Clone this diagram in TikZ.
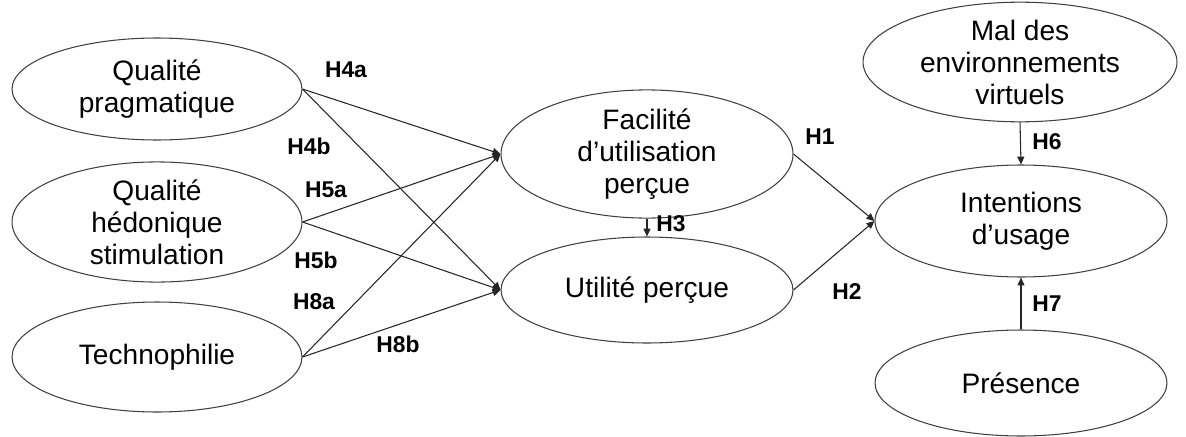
\documentclass[tikz,border=0pt]{standalone}
\usepackage{fontspec}
\setmainfont{Liberation Sans}
\usetikzlibrary{shapes.geometric,arrows.meta}
\tikzset{
  var/.style={ellipse, draw=black!75, line width=0.6pt, inner sep=0pt,
    minimum width=5.84cm, minimum height=2.16cm, align=center,
    font=\fontsize{16}{18.2}\selectfont},
  hyp/.style={font=\fontsize{13}{15}\selectfont\bfseries},
  lien/.style={line width=0.6pt, draw=black!85, -{Triangle[length=4.5pt,width=4pt]}}
}
\begin{document}
\begin{tikzpicture}[x=0.02cm, y=-0.02cm]
\useasboundingbox (0,0) rectangle (1186,436);

% variables
\node[var, minimum width=5.8cm, minimum height=2.04cm] (prag) at (157,89) {Qualité\\pragmatique};
\node[var, minimum width=5.8cm, minimum height=2.2cm] (hedo) at (157,222) {Qualité\\hédonique\\stimulation};
\node[var, minimum width=5.8cm, minimum height=2.2cm] (techno) at (157,357) {Technophilie};
\node[var] (facil) at (647,154) {Facilité\\d’utilisation\\perçue};
\node[var, minimum height=2.12cm] (util) at (647,290) {Utilité perçue};
\node[var, minimum width=6.28cm, minimum height=2.2cm] (mal) at (1020,62) {Mal des\\environnements\\virtuels};
\node[var, minimum height=2.24cm] (inten) at (1021,221) {Intentions\\d’usage};
\node[var, minimum height=2.12cm] (pres) at (1021,383) {Présence};

% liens
\draw[lien] (prag.east) -- (facil.west);
\draw[lien] (prag.east) -- (util.west);
\draw[lien] (hedo.east) -- (facil.west);
\draw[lien] (hedo.east) -- (util.west);
\draw[lien] (techno.east) -- (facil.west);
\draw[lien] (techno.east) -- (util.west);
\draw[lien] (facil.south) -- (util.north);
\draw[lien] (facil.east) -- (inten.west);
\draw[lien] (util.east) -- (inten.west);
\draw[lien] (mal.south) -- (inten.north);
\draw[lien] (pres.north) -- (inten.south);

% hypotheses
\node[hyp] (h4a) at (346,70) {H4a};
\node[hyp] (h4b) at (309,146) {H4b};
\node[hyp] (h5a) at (326,190) {H5a};
\node[hyp] (h5b) at (316,260) {H5b};
\node[hyp] (h8a) at (314,302) {H8a};
\node[hyp] (h8b) at (398,344) {H8b};
\node[hyp] (h1) at (820,137) {H1};
\node[hyp] (h2) at (847,292) {H2};
\node[hyp] (h3) at (671,224) {H3};
\node[hyp] (h6) at (1047,142) {H6};
\node[hyp] (h7) at (1047,304) {H7};

\end{tikzpicture}
\end{document}
